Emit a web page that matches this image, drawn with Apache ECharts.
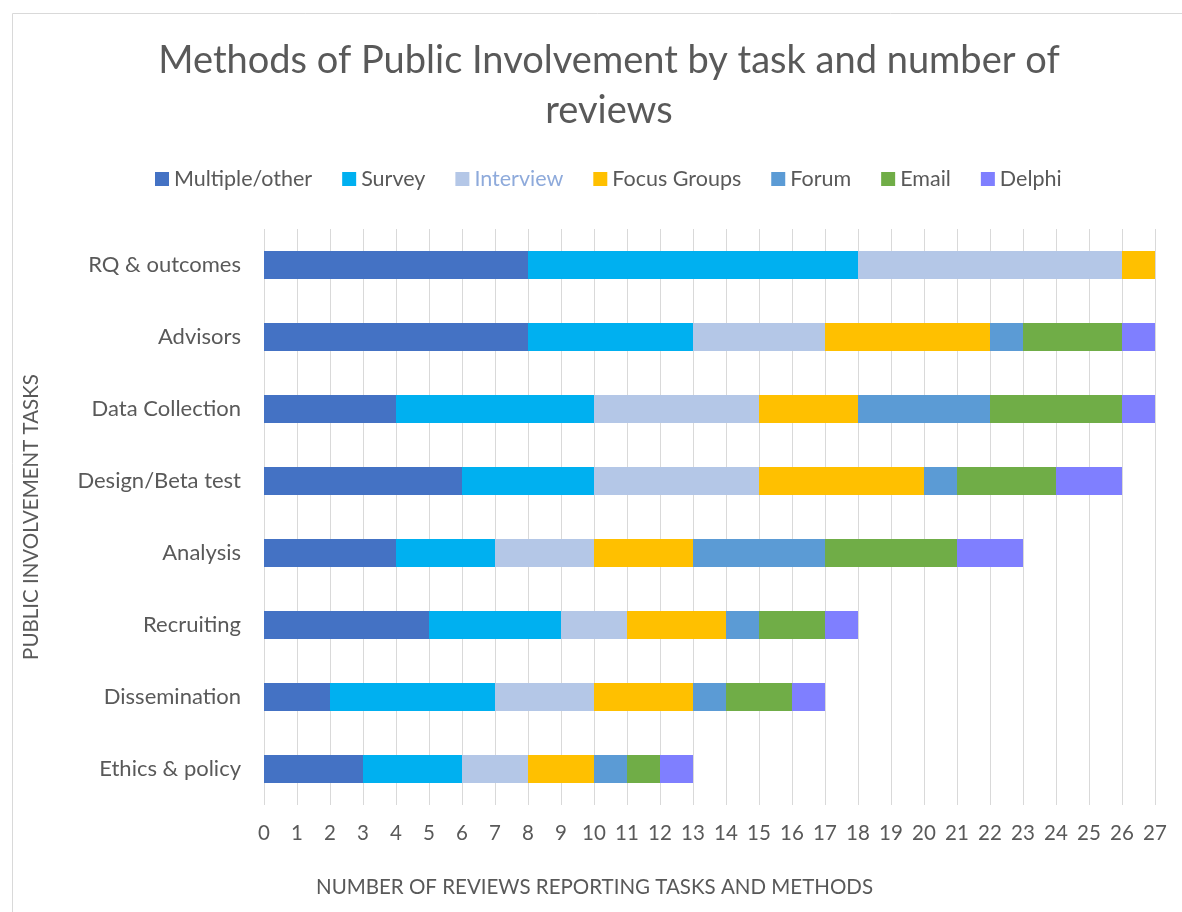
<!DOCTYPE html>
<html>
<head>
<meta charset="utf-8">
<style>
  html, body { margin: 0; padding: 0; background: #fff; }
  #main { width: 1182px; height: 912px; }
</style>
<script src="https://cdn.jsdelivr.net/npm/echarts@6/dist/echarts.min.js"></script>
</head>
<body>
<div id="main"></div>
<script>
// tasks, bottom to top as drawn
var tasks = ['Ethics & policy', 'Dissemination', 'Recruiting', 'Analysis',
             'Design/Beta test', 'Data Collection', 'Advisors', 'RQ & outcomes'];

var multiple = [3, 2, 5, 4, 6, 4, 8, 8];
var survey   = [3, 5, 4, 3, 4, 6, 5, 10];
var interview= [2, 3, 2, 3, 5, 5, 4, 8];
var focus    = [2, 3, 3, 3, 5, 3, 5, 1];
var forum    = [1, 1, 1, 4, 1, 4, 1, 0];
var email    = [1, 2, 2, 4, 3, 4, 3, 0];
var delphi   = [1, 1, 1, 2, 2, 1, 1, 0];

var methodNames = ['Multiple/other', 'Survey', 'Interview', 'Focus Groups', 'Forum', 'Email', 'Delphi'];
var methodData = [multiple, survey, interview, focus, forum, email, delphi];
var colors = ['#4472c4', '#00b0f0', '#b4c7e7', '#ffc000', '#5b9bd5', '#70ad47', '#7f7fff'];

var textColor = '#595959';
var fontName = 'Lato';

var series = methodNames.map(function (name, i) {
    return {
        name: name,
        type: 'bar',
        stack: 'total',
        barWidth: 28,
        itemStyle: { color: colors[i] },
        data: methodData[i]
    };
});

var chart = echarts.init(document.getElementById('main'));
chart.setOption({
    animation: false,
    color: colors,
    textStyle: { fontFamily: fontName },
    title: {
        text: 'Methods of Public Involvement by task and number of\nreviews',
        left: 604,
        top: 31,
        textAlign: 'center',
        textStyle: {
            fontFamily: fontName,
            fontWeight: 400,
            fontSize: 38,
            color: textColor,
            lineHeight: 50
        }
    },
    legend: {
        left: 150,
        top: 163,
        itemWidth: 14,
        itemHeight: 14,
        itemGap: 30,
        icon: 'rect',
        textStyle: { fontSize: 21.5, color: textColor, fontFamily: fontName },
        data: methodNames.map(function (n) {
            if (n === 'Interview') {
                return { name: n, textStyle: { color: '#8eaadb' } };
            }
            return { name: n };
        })
    },
    grid: {
        left: 264,
        right: 27,
        top: 229,
        bottom: 107,
        containLabel: false
    },
    xAxis: {
        type: 'value',
        min: 0,
        max: 27,
        interval: 1,
        axisLine: { show: false },
        axisTick: { show: false },
        axisLabel: { fontSize: 20.5, color: textColor, margin: 18 },
        splitLine: { show: true, lineStyle: { color: '#d9d9d9', width: 1 } }
    },
    yAxis: {
        type: 'category',
        data: tasks,
        axisLine: { show: false },
        axisTick: { show: false },
        axisLabel: { fontSize: 22, color: textColor, margin: 23 },
        name: 'PUBLIC INVOLVEMENT TASKS',
        nameLocation: 'middle',
        nameRotate: 90,
        nameGap: 222,
        nameTextStyle: { fontSize: 20.5, color: textColor, fontFamily: fontName }
    },
    graphic: [
        {
            type: 'rect',
            left: 10,
            top: 11,
            shape: { width: 1300, height: 1000 },
            style: { fill: 'none', stroke: '#d9d9d9', lineWidth: 1 },
            z: -1
        },
        {
            type: 'text',
            left: 316,
            top: 877,
            style: {
                text: 'NUMBER OF REVIEWS REPORTING TASKS AND METHODS',
                fontSize: 20.5,
                fontFamily: fontName,
                fill: textColor
            }
        }
    ],
    series: series
});
</script>
</body>
</html>
